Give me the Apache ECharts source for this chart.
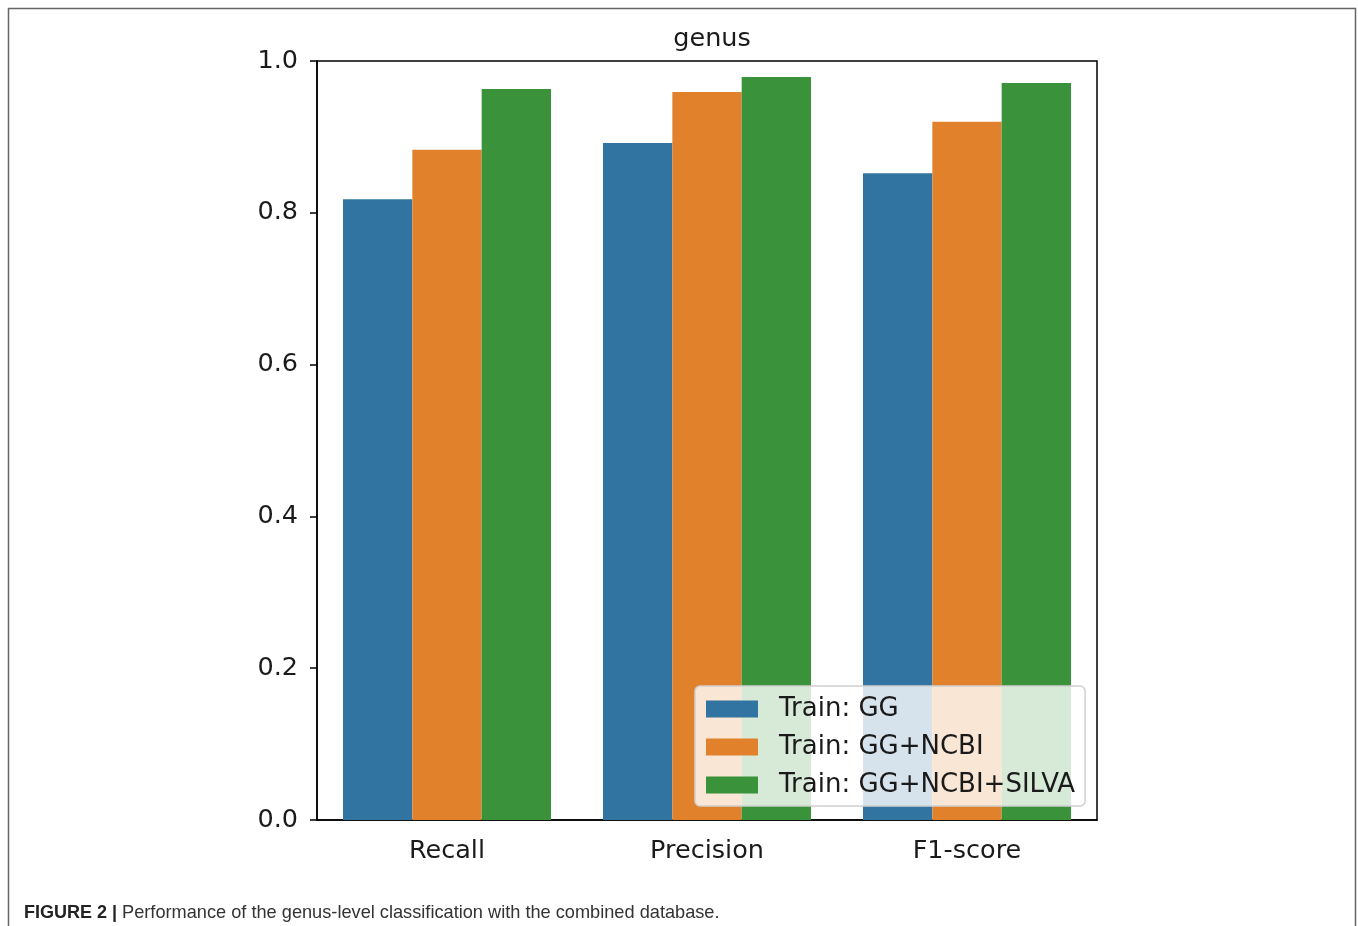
<!DOCTYPE html>
<html>
<head>
<meta charset="utf-8">
<script src="https://cdn.jsdelivr.net/npm/echarts@6/dist/echarts.min.js"></script>
<style>html,body{margin:0;padding:0;background:#fff;}#c{width:1358px;height:926px;}</style>
</head>
<body>
<div id="c"></div>
<script>
const categories = ['Recall', 'Precision', 'F1-score'];
const seriesNames = ['Train: GG', 'Train: GG+NCBI', 'Train: GG+NCBI+SILVA'];
const gg = [0.818, 0.892, 0.852];
const ggNcbi = [0.883, 0.959, 0.920];
const ggNcbiSilva = [0.963, 0.979, 0.971];
const yTicks = [0.0, 0.2, 0.4, 0.6, 0.8, 1.0];
const colors = ['#3274a1', '#e1812c', '#3a923a'];

const chart = echarts.init(document.getElementById('c'), null, {renderer: 'canvas'});
const font = 'DejaVu Sans';
const values = [gg, ggNcbi, ggNcbiSilva];
chart.setOption({
  animation: false,
  backgroundColor: '#fff',
  title: [{
    text: 'genus', left: 707, top: 21, textAlign: 'center',
    textStyle: {fontFamily: font, fontSize: 25.5, fontWeight: 'normal', color: '#1a1a1a'}
  }, {
    text: '{b|FIGURE 2 |} {n|Performance of the genus-level classification with the combined database.}',
    left: 19, top: 899,
    textStyle: {
      fontWeight: 'normal',
      rich: {
        b: {fontFamily: 'Liberation Sans', fontSize: 18, fontWeight: 'bold', color: '#222'},
        n: {fontFamily: 'Liberation Sans', fontSize: 18.2, fontWeight: 'normal', color: '#333'}
      }
    }
  }],
  graphic: [{
    type: 'rect', shape: {x: 8.5, y: 8.5, width: 1347, height: 940},
    style: {fill: 'none', stroke: '#666', lineWidth: 1.5}, silent: true, z: -1
  }],
  grid: {left: 317, right: 261, top: 61, bottom: 106, show: true, borderColor: '#000', borderWidth: 1.5, backgroundColor: 'transparent'},
  legend: {
    orient: 'vertical', left: 695, top: 686,
    data: seriesNames,
    itemWidth: 52, itemHeight: 17, itemGap: 12,
    padding: [10, 10, 8, 11],
    backgroundColor: 'rgba(255,255,255,0.8)',
    borderColor: '#d0d0d0', borderWidth: 1.5, borderRadius: 5,
    icon: 'rect',
    textStyle: {fontFamily: font, fontSize: 26, color: '#1a1a1a', padding: [0, 0, 0, 16]}
  },
  xAxis: {
    type: 'category', data: categories,
    axisLine: {lineStyle: {color: '#000', width: 1.5}},
    axisTick: {alignWithLabel: true, length: 7, lineStyle: {color: '#000', width: 1.5}},
    axisLabel: {fontFamily: font, fontSize: 25.5, color: '#1a1a1a', margin: 18}
  },
  yAxis: {
    type: 'value', min: 0, max: 1, interval: 0.2,
    axisLine: {show: true, lineStyle: {color: '#000', width: 1.5}},
    axisTick: {show: true, length: 7, lineStyle: {color: '#000', width: 1.5}},
    splitLine: {show: false},
    axisLabel: {fontFamily: font, fontSize: 25.5, color: '#1a1a1a', margin: 19, padding: [8, 0, 0, 0],
      formatter: v => yTicks.find(t => Math.abs(t - v) < 1e-9).toFixed(1)}
  },
  series: seriesNames.map((n, i) => ({
    name: n, type: 'bar', data: values[i],
    barGap: '0%', barCategoryGap: '20%',
    itemStyle: {color: colors[i]}
  }))
});
</script>
</body>
</html>
